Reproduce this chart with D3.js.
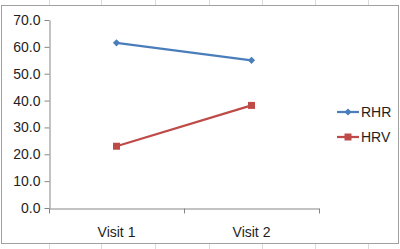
<!DOCTYPE html>
<html>
<head>
<meta charset="utf-8">
<script src="https://cdn.jsdelivr.net/npm/d3@7"></script>
<style>
  body { margin: 0; background: #fff; }
  text { font-family: "Liberation Sans", Arial, sans-serif; fill: #1e1e1e; }
</style>
</head>
<body>
<div id="container"></div>
<script>
const categories = ["Visit 1", "Visit 2"]
const rhr = [61.5, 55.0]
const hrv = [23.0, 38.2]
const yTicks = [0, 10, 20, 30, 40, 50, 60, 70]
const seriesNames = ["RHR", "HRV"]

const width = 400, height = 249
const svg = d3.select("#container").append("svg")
    .attr("width", width).attr("height", height)

// spreadsheet gridlines peeking out above and below the chart
const sheetCols = [49, 101, 155, 209, 262, 315, 368]
sheetCols.forEach(x => {
    svg.append("line").attr("x1", x + 0.5).attr("x2", x + 0.5).attr("y1", 0).attr("y2", 5)
        .attr("stroke", "#dadada")
    svg.append("line").attr("x1", x + 0.5).attr("x2", x + 0.5).attr("y1", 244).attr("y2", 249)
        .attr("stroke", "#dadada")
})

// chart frame
svg.append("rect").attr("x", 1.5).attr("y", 5.5).attr("width", 397).attr("height", 238)
    .attr("fill", "#fff").attr("stroke", "#a0a0a0")

const x = d3.scaleBand().domain(categories).range([49, 319]).paddingInner(0)
const y = d3.scaleLinear().domain([0, 70]).range([208, 20])

const yAxis = svg.append("g").attr("transform", "translate(49.5,0)")
    .call(d3.axisLeft(y).tickValues(yTicks).tickFormat(d3.format(".1f")).tickSize(5).tickSizeOuter(0))
yAxis.selectAll("text").attr("font-size", 14).attr("x", -9)
    .style("font-family", "Liberation Sans, Arial, sans-serif").attr("fill", "#1e1e1e")

const xAxis = svg.append("g").attr("transform", "translate(0,208.5)")
    .call(d3.axisBottom(x).tickSize(0).tickSizeOuter(0))
xAxis.selectAll("text").attr("font-size", 14).attr("y", 19)
    .style("font-family", "Liberation Sans, Arial, sans-serif").attr("fill", "#1e1e1e")
// category boundary ticks
const bounds = [49, 49 + x.bandwidth(), 319]
bounds.forEach(b => {
    xAxis.append("line").attr("x1", Math.round(b) + 0.5).attr("x2", Math.round(b) + 0.5)
        .attr("y1", 0).attr("y2", 5).attr("stroke", "#868686")
})
svg.selectAll(".domain").attr("stroke", "#868686")
svg.selectAll(".tick line").attr("stroke", "#868686")

const cx = d => x(d) + x.bandwidth() / 2
const line = d3.line().x(d => cx(d[0])).y(d => y(d[1]))

// diamond = square turned 45deg
const series = [
    { name: seriesNames[0], values: rhr, color: "#4a7ebb", symbol: d3.symbolSquare, size: 26, rot: 45 },
    { name: seriesNames[1], values: hrv, color: "#be4b48", symbol: d3.symbolSquare, size: 49, rot: 0 }
]

series.forEach((s, i) => {
    const pts = categories.map((c, j) => [c, s.values[j]])
    svg.append("path").attr("d", line(pts)).attr("fill", "none")
        .attr("stroke", s.color).attr("stroke-width", 2.25)
    svg.selectAll(null).data(pts).enter().append("path")
        .attr("d", d3.symbol().type(s.symbol).size(s.size))
        .attr("transform", d => `translate(${cx(d[0])},${y(d[1])}) rotate(${s.rot})`)
        .attr("fill", s.color)

    const ly = 112 + i * 25
    const lg = svg.append("g")
    lg.append("line").attr("x1", 337).attr("x2", 359).attr("y1", ly).attr("y2", ly)
        .attr("stroke", s.color).attr("stroke-width", 2.25)
    lg.append("path").attr("d", d3.symbol().type(s.symbol).size(s.size))
        .attr("transform", `translate(348,${ly}) rotate(${s.rot})`).attr("fill", s.color)
    lg.append("text").attr("x", 361).attr("y", ly).attr("dy", "0.36em")
        .attr("font-size", 14).text(s.name)
})
</script>
</body>
</html>
